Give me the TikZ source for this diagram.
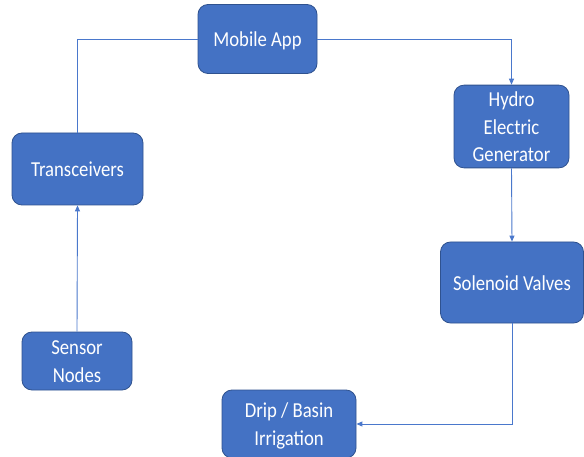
\documentclass[tikz,border=0pt]{standalone}
\usepackage{fontspec}
\usepackage{graphicx}
\setmainfont{Carlito}
\usetikzlibrary{arrows.meta}
\definecolor{boxfill}{HTML}{4472C4}
\definecolor{boxedge}{HTML}{2F528F}
\definecolor{linkc}{HTML}{4A78CC}
\newcommand{\tallt}[1]{\raisebox{-2pt}[\height][\depth]{\scalebox{1}[1.14]{\begin{tabular}{@{}c@{}}#1\end{tabular}}}}
\begin{document}
\begin{tikzpicture}[x=1pt,y=-1pt,
  blockbox/.style={draw=boxedge, line width=0.8pt, fill=boxfill, rounded corners=10pt,
    text=white, align=center, inner sep=0pt,
    font=\fontsize{18.7}{24.2}\selectfont},
  link/.style={draw=linkc, line width=0.9pt},
  arrowlink/.style={link, -{Triangle[length=6pt,width=5pt]}}]
\clip (0,0) rectangle (584,457);
\fill[white] (0,0) rectangle (584,457);
\node[blockbox, minimum width=119pt, minimum height=69pt] (app) at (257.5,39) {\tallt{Mobile App}};
\node[blockbox, minimum width=115pt, minimum height=81pt] (hydro) at (511.5,126.5) {\tallt{Hydro\\Electric\\Generator}};
\node[blockbox, minimum width=143pt, minimum height=81pt] (sol) at (512,282.5) {\tallt{Solenoid Valves}};
\node[blockbox, minimum width=134pt, minimum height=68pt] (drip) at (289,424) {\tallt{Drip / Basin\\Irrigation}};
\node[blockbox, minimum width=110pt, minimum height=58pt] (sensor) at (77,361) {\tallt{Sensor\\Nodes}};
\node[blockbox, minimum width=131pt, minimum height=72pt] (trans) at (77.5,169) {\tallt{Transceivers}};
\draw[link] (trans.north) |- (app.west);
\draw[arrowlink] (app.east) -| (hydro.north);
\draw[arrowlink] (hydro.south) -- (sol.north);
\draw[arrowlink] (sol.south) |- (drip.east);
\draw[arrowlink] (sensor.north) -- (trans.south);
\end{tikzpicture}
\end{document}
